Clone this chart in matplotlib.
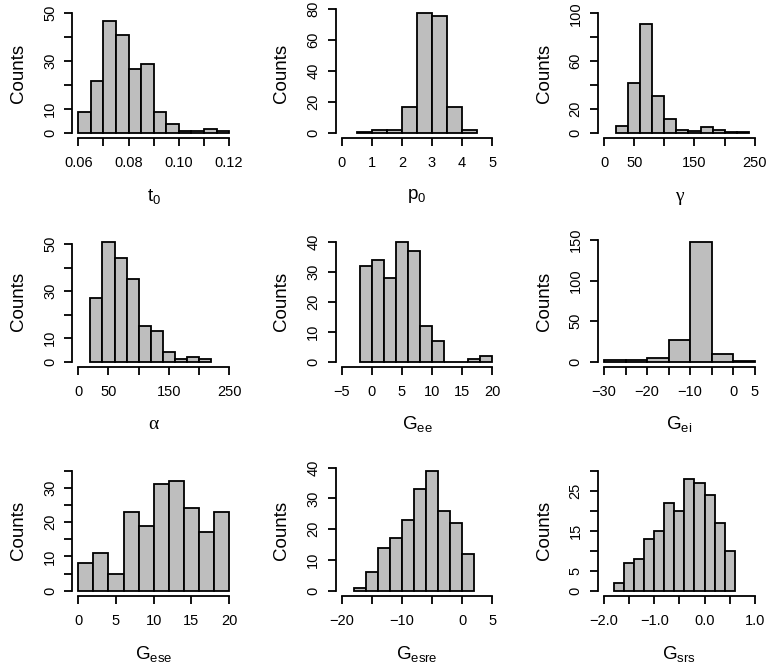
import matplotlib
matplotlib.use('Agg')
import matplotlib.pyplot as plt

plt.rcParams['font.family'] = ['Liberation Sans', 'DejaVu Sans']

# histogram bin edges and counts
t0_edges = [0.060, 0.065, 0.070, 0.075, 0.080, 0.085, 0.090, 0.095, 0.100, 0.105, 0.110, 0.115, 0.120]
t0_counts = [9, 22, 47, 41, 27, 29, 9, 4, 1, 1, 2, 1]

p0_edges = [0.5, 1.0, 1.5, 2.0, 2.5, 3.0, 3.5, 4.0, 4.5]
p0_counts = [1, 2, 2, 17, 77, 75, 17, 2]

gamma_edges = [20, 40, 60, 80, 100, 120, 140, 160, 180, 200, 220, 240]
gamma_counts = [6, 42, 91, 31, 12, 3, 2, 5, 3, 1, 1]

alpha_edges = [20, 40, 60, 80, 100, 120, 140, 160, 180, 200, 220]
alpha_counts = [27, 51, 44, 35, 15, 13, 4, 1, 2, 1]

gee_edges = [-2, 0, 2, 4, 6, 8, 10, 12, 14, 16, 18, 20]
gee_counts = [32, 34, 28, 40, 37, 12, 7, 0, 0, 1, 2]

gei_edges = [-30, -25, -20, -15, -10, -5, 0, 5]
gei_counts = [2, 2, 4, 27, 148, 10, 1]

gese_edges = [0, 2, 4, 6, 8, 10, 12, 14, 16, 18, 20]
gese_counts = [8, 11, 5, 23, 19, 31, 32, 24, 17, 23]

gesre_edges = [-18, -16, -14, -12, -10, -8, -6, -4, -2, 0, 2]
gesre_counts = [1, 6, 14, 17, 23, 33, 39, 26, 22, 12]

gsrs_edges = [-1.8, -1.6, -1.4, -1.2, -1.0, -0.8, -0.6, -0.4, -0.2, 0.0, 0.2, 0.4, 0.6]
gsrs_counts = [2, 7, 8, 13, 15, 22, 20, 28, 27, 24, 17, 10]

xlabels = [r'$\mathregular{t_0}$', r'$\mathregular{p_0}$', 'γ',
           'α', r'$\mathregular{G_{ee}}$', r'$\mathregular{G_{ei}}$',
           r'$\mathregular{G_{ese}}$', r'$\mathregular{G_{esre}}$', r'$\mathregular{G_{srs}}$']

# axis ticks (R skips labels that would overlap)
x_ticks = [
    ([0.06, 0.07, 0.08, 0.09, 0.10, 0.11, 0.12], ['0.06', '', '0.08', '', '0.10', '', '0.12']),
    ([0, 1, 2, 3, 4, 5], ['0', '1', '2', '3', '4', '5']),
    ([0, 50, 100, 150, 200, 250], ['0', '50', '', '150', '', '250']),
    ([0, 50, 100, 150, 200, 250], ['0', '50', '', '150', '', '250']),
    ([-5, 0, 5, 10, 15, 20], ['\u22125', '0', '5', '10', '15', '20']),
    ([-30, -25, -20, -15, -10, -5, 0, 5], ['\u221230', '', '\u221220', '', '\u221210', '', '0', '5']),
    ([0, 5, 10, 15, 20], ['0', '5', '10', '15', '20']),
    ([-20, -15, -10, -5, 0, 5], ['\u221220', '', '\u221210', '', '0', '5']),
    ([-2.0, -1.5, -1.0, -0.5, 0.0, 0.5, 1.0], ['\u22122.0', '', '\u22121.0', '', '0.0', '', '1.0']),
]
y_ticks = [
    ([0, 10, 20, 30, 40, 50], ['0', '10', '', '30', '', '50']),
    ([0, 20, 40, 60, 80], ['0', '20', '40', '60', '80']),
    ([0, 20, 40, 60, 80, 100], ['0', '20', '', '60', '', '100']),
    ([0, 10, 20, 30, 40, 50], ['0', '10', '', '30', '', '50']),
    ([0, 10, 20, 30, 40], ['0', '10', '20', '30', '40']),
    ([0, 50, 100, 150], ['0', '50', '100', '150']),
    ([0, 5, 10, 15, 20, 25, 30, 35], ['0', '', '10', '', '20', '', '30', '']),
    ([0, 10, 20, 30, 40], ['0', '10', '20', '30', '40']),
    ([0, 5, 10, 15, 20, 25, 30], ['0', '5', '', '15', '', '25', '']),
]
y_top = [50, 77, 100, 51, 40, 148, 35, 39, 30]

data = [(t0_edges, t0_counts), (p0_edges, p0_counts), (gamma_edges, gamma_counts),
        (alpha_edges, alpha_counts), (gee_edges, gee_counts), (gei_edges, gei_counts),
        (gese_edges, gese_counts), (gesre_edges, gesre_counts), (gsrs_edges, gsrs_counts)]

W, H = 766, 670
fig = plt.figure(figsize=(W / 100, H / 100), dpi=100)

col_left = [72.3, 335.5, 598.0]
row_top = [8.5, 236.9, 465.9]
pw, ph = 162.8, 129.6

for i, (edges, counts) in enumerate(data):
    r, c = divmod(i, 3)
    ax = fig.add_axes([col_left[c] / W, 1 - (row_top[r] + ph) / H, pw / W, ph / H])
    widths = [b - a for a, b in zip(edges[:-1], edges[1:])]
    ax.bar(edges[:-1], counts, width=widths, align='edge', color='#BEBEBE',
           edgecolor='black', linewidth=1.3)

    xt, xl = x_ticks[i]
    yt, yl = y_ticks[i]
    span = xt[-1] - xt[0]
    ax.set_xlim(xt[0] - 0.04 * span, xt[-1] + 0.04 * span)
    ax.set_ylim(-0.04 * y_top[i], 1.04 * y_top[i])
    ax.set_xticks(xt, xl)
    ax.set_yticks(yt, yl, rotation=90, va='center')

    for s in ['top', 'right']:
        ax.spines[s].set_visible(False)
    ax.spines['left'].set_bounds(yt[0], yt[-1])
    ax.spines['bottom'].set_bounds(xt[0], xt[-1])
    ax.spines['left'].set_linewidth(1.3)
    ax.spines['bottom'].set_linewidth(1.3)
    ax.tick_params(direction='out', length=6, width=1.3, labelsize=10.5)
    ax.tick_params(axis='x', pad=7)
    ax.tick_params(axis='y', pad=5)

    ax.text(-54 / pw, 0.5, 'Counts', transform=ax.transAxes, rotation=90,
            ha='center', va='center', fontsize=13.5)
    lab = xlabels[i]
    if lab in ('γ', 'α'):
        ax.text(0.5, -58 / ph, lab, transform=ax.transAxes, ha='center', va='center',
                fontsize=14, family=['Liberation Serif', 'DejaVu Serif'])
    else:
        ax.text(0.5, -58 / ph, lab, transform=ax.transAxes, ha='center', va='center',
                fontsize=13.5)

fig.savefig('out.png', dpi=100)
